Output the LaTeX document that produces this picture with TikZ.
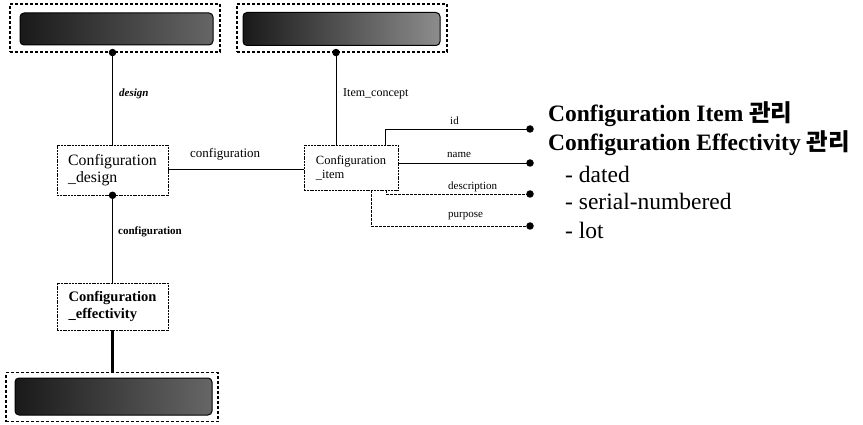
\documentclass[tikz,border=0pt]{standalone}
\usepackage{fontspec}
\setmainfont{Liberation Serif}
\newfontfamily\krfont{Noto Sans CJK KR}
\begin{document}
\begin{tikzpicture}[x=1pt,y=-1pt,
  outerbox/.style={draw, line width=1.1pt, dash pattern=on 3pt off 2pt, inner sep=0pt},
  darkbar/.style={draw=black, line width=1pt, rounded corners=4pt, inner sep=0pt,
    left color=black!90, right color=black!60},
  entity/.style={draw, line width=0.6pt, dash pattern=on 2pt off 0.8pt, inner sep=0pt, align=left},
  link/.style={line width=0.75pt},
  dlink/.style={line width=0.75pt, dash pattern=on 2.5pt off 1.5pt},
  dot/.style={circle, fill=black, inner sep=0pt, minimum size=7.5pt},
  lbl/.style={anchor=base west, inner sep=0pt, font=\fontsize{11}{13}\selectfont},
  note/.style={anchor=base west, inner sep=0pt},
]
\useasboundingbox (0,0) rectangle (863,425);

% referenced external entities (greyed out)
\node[outerbox, minimum width=210pt, minimum height=48pt] (tl) at (115,28) {};
\node[darkbar, minimum width=193pt, minimum height=32pt] (tlbar) at (116.5,29) {};
\node[outerbox, minimum width=210pt, minimum height=48pt] (tm) at (342,28) {};
\node[darkbar, minimum width=197pt, minimum height=33pt, right color=black!45] (tmbar) at (341.5,29) {};
\node[outerbox, minimum width=212pt, minimum height=49pt] (bt) at (112,397) {};
\node[darkbar, minimum width=197pt, minimum height=37pt] (btbar) at (113.5,396.5) {};

% entities
\node[entity, minimum width=111pt, minimum height=50pt,
  font=\fontsize{15.8}{17.5}\selectfont] (design) at (112.5,170) {Configuration\\\_design};
\node[entity, minimum width=94pt, minimum height=45pt,
  font=\fontsize{12.5}{14}\selectfont] (item) at (351,167.5) {Configuration\\\_item};
\node[entity, minimum width=111pt, minimum height=47pt,
  font=\bfseries\fontsize{14.5}{16.5}\selectfont] (eff) at (112.5,306.5) {Configuration\\\_effectivity};

% relationships
\draw[link] (design.north) -- (design.north |- tl.south) node[dot] (d1) {};
\draw[link] (item.north -| 336,0) -- (336,0 |- tm.south) node[dot] (d2) {};
\draw[link] (design.east |- 0,169) -- (item.west |- 0,169);
\draw[link] (design.south) node[dot] (d3) {} -- (eff.north);
\draw[line width=2.6pt] (eff.south) -- (bt.north -| eff.south);

% attributes
\coordinate (pid) at (530,129);
\coordinate (pname) at (530,163);
\coordinate (pdesc) at (530,194);
\coordinate (ppur) at (530,226);
\draw[link] ([xshift=34pt]item.north) |- (pid);
\draw[link] (pname -| item.east) -- (pname);
\draw[dlink] ([xshift=35pt]item.south) |- (pdesc);
\draw[dlink] ([xshift=20pt]item.south) |- (ppur);
\foreach \p in {pid,pname,pdesc,ppur} \node[dot] at (\p) {};

% labels
\node[lbl, font=\bfseries\itshape\fontsize{11}{13}\selectfont] (ldesign) at (119,97) {design};
\node[lbl, font=\fontsize{12}{14}\selectfont] (lconcept) at (343,97) {Item\_concept};
\node[lbl, font=\fontsize{13}{15}\selectfont] (lconf1) at (190,158) {configuration};
\node[lbl, font=\bfseries\fontsize{11}{13}\selectfont] (lconf2) at (118,235) {configuration};
\node[lbl] (lid) at (450,125) {id};
\node[lbl] (lname) at (447,158) {name};
\node[lbl] (ldescr) at (448,190) {description};
\node[lbl] (lpurp) at (448,218) {purpose};

% notes
\node[note, font=\bfseries\fontsize{23.5}{26}\selectfont] (n1) at (548,122)
  {Configuration Item {\krfont 관리}};
\node[note, font=\bfseries\fontsize{23.5}{26}\selectfont] (n2) at (548,151)
  {Configuration Effectivity {\krfont 관리}};
\node[note, font=\fontsize{23.5}{26}\selectfont] (n3) at (565,183) {- dated};
\node[note, font=\fontsize{23.5}{26}\selectfont] (n4) at (565,210) {- serial-numbered};
\node[note, font=\fontsize{23.5}{26}\selectfont] (n5) at (565,239) {- lot};
\end{tikzpicture}
\end{document}
